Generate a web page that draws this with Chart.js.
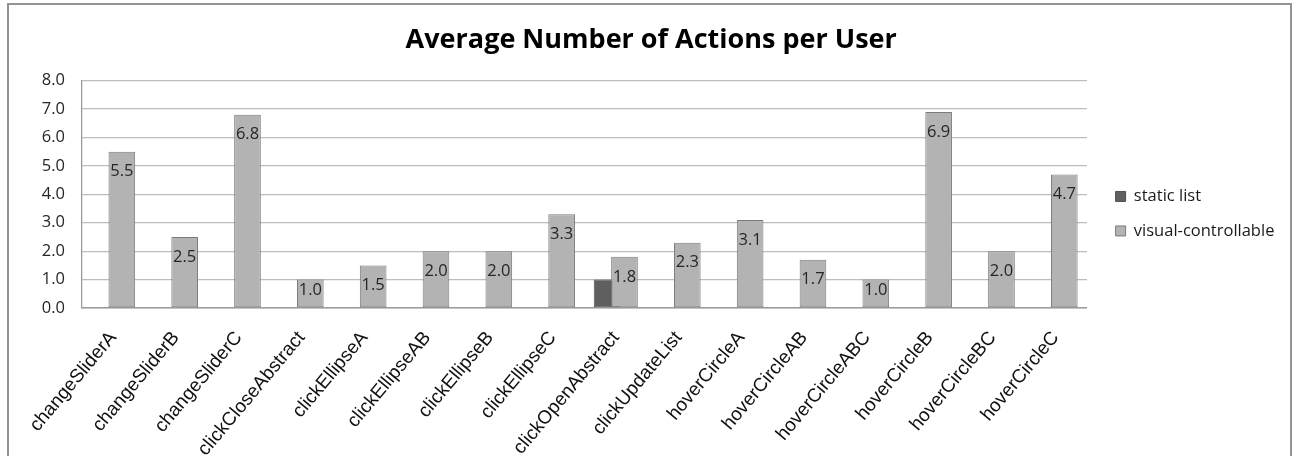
<!DOCTYPE html>
<html>
<head>
<meta charset="utf-8">
<title>Average Number of Actions per User</title>
<script src="https://cdn.jsdelivr.net/npm/chart.js@4.4.1/dist/chart.umd.min.js"></script>
<style>
  html, body { margin: 0; padding: 0; background: #fff; }
  #wrap { position: relative; width: 1292px; height: 456px; overflow: hidden; }
  #frame { position: absolute; left: 7px; top: 3px; width: 1285px; height: 470px;
           border: 2px solid #939393; box-sizing: border-box; }
  #chart { position: absolute; left: 0; top: 0; }
</style>
</head>
<body>
<div id="wrap">
  <div id="frame"></div>
  <canvas id="chart" width="1292" height="456"></canvas>
</div>
<script>
// Interaction types
const categories = [
  'changeSliderA', 'changeSliderB', 'changeSliderC', 'clickCloseAbstract',
  'clickEllipseA', 'clickEllipseAB', 'clickEllipseB', 'clickEllipseC',
  'clickOpenAbstract', 'clickUpdateList', 'hoverCircleA', 'hoverCircleAB',
  'hoverCircleABC', 'hoverCircleB', 'hoverCircleBC', 'hoverCircleC'
];

// Average actions per user, by interface
const staticList = [
  null, null, null, null, null, null, null, null,
  1.0, null, null, null, null, null, null, null
];
const visualControllable = [
  5.5, 2.5, 6.8, 1.0, 1.5, 2.0, 2.0, 3.3,
  1.8, 2.3, 3.1, 1.7, 1.0, 6.9, 2.0, 4.7
];

const seriesNames = ['static list', 'visual-controllable'];

// Value axis
const yMin = 0;
const yMax = 8;
const yStep = 1;

const uiFont = 'Open Sans';

// Draw datasets in index order so the light series overlaps the dark one
const drawOrder = {
  id: 'drawOrder',
  beforeDatasetsDraw(chart) {
    const ctx = chart.ctx;
    const a = chart.chartArea;
    chart.getSortedVisibleDatasetMetas().forEach(meta => {
      ctx.save();
      ctx.beginPath();
      ctx.rect(a.left, a.top - 2, a.right - a.left, a.bottom - a.top + 4);
      ctx.clip();
      meta.controller.draw();
      ctx.restore();
    });
    return false;
  }
};

// Value labels near the inside top of each light bar
const valueLabels = {
  id: 'valueLabels',
  afterDraw(chart) {
    const ctx = chart.ctx;
    const meta = chart.getDatasetMeta(1);
    const values = chart.data.datasets[1].data;
    const base = chart.scales.y.getPixelForValue(0);
    ctx.save();
    ctx.font = '16.5px "' + uiFont + '"';
    ctx.fillStyle = '#262626';
    ctx.textAlign = 'center';
    ctx.textBaseline = 'middle';
    meta.data.forEach((bar, i) => {
      const v = values[i];
      if (v === null || v === undefined) return;
      const y = Math.min(bar.y + 20, base - 18);
      ctx.fillText(v.toFixed(1), bar.x, y);
    });
    ctx.restore();
  }
};

new Chart(document.getElementById('chart'), {
  type: 'bar',
  data: {
    labels: categories,
    datasets: [
      {
        label: seriesNames[0],
        data: staticList,
        backgroundColor: '#5f5f5f',
        borderColor: '#505050',
        borderWidth: 1,
        borderSkipped: false
      },
      {
        label: seriesNames[1],
        data: visualControllable,
        backgroundColor: '#b3b3b3',
        borderColor: '#7b7b7b',
        borderWidth: 1,
        borderSkipped: false
      }
    ]
  },
  options: {
    responsive: false,
    animation: false,
    events: [],
    datasets: {
      bar: { categoryPercentage: 0.5548, barPercentage: 1.529 }
    },
    // negative top padding lifts the full-height legend so it centres lower
    layout: { padding: { left: 18, right: 7.6, top: -28.6, bottom: 0 } },
    plugins: {
      title: {
        display: true,
        text: 'Average Number of Actions per User',
        color: '#000',
        font: { family: uiFont, size: 27, weight: 'bold', lineHeight: 1.2 },
        padding: { top: 53, bottom: 23.9 }
      },
      legend: {
        position: 'right',
        align: 'center',
        labels: {
          boxWidth: 10,
          boxHeight: 10,
          padding: 18,
          color: '#1a1a1a',
          font: { family: uiFont, size: 16.5 }
        }
      },
      tooltip: { enabled: false }
    },
    scales: {
      x: {
        grid: { display: false, drawTicks: false },
        border: { color: '#9c9c9c', width: 1.5 },
        ticks: {
          autoSkip: false,
          minRotation: 50,
          maxRotation: 50,
          padding: 19,
          color: '#111',
          font: { family: 'Liberation Sans', size: 19 }
        },
        afterFit(scale) { scale.height = 148; }
      },
      y: {
        min: yMin,
        max: yMax,
        grid: { color: '#bdbdbd', lineWidth: 1.3, drawTicks: false },
        border: { color: '#9c9c9c', width: 1.3 },
        ticks: {
          stepSize: yStep,
          padding: 16.7,
          color: '#262626',
          font: { family: uiFont, size: 16.5 },
          callback: v => v.toFixed(1)
        },
        afterFit(scale) { scale.width = 63.7; }
      },
      gap: {
        position: 'right',
        grid: { display: false, drawTicks: false },
        ticks: { display: false },
        border: { display: false },
        afterFit(scale) { scale.width = 10.6; }
      }
    }
  },
  plugins: [drawOrder, valueLabels]
});
</script>
</body>
</html>
